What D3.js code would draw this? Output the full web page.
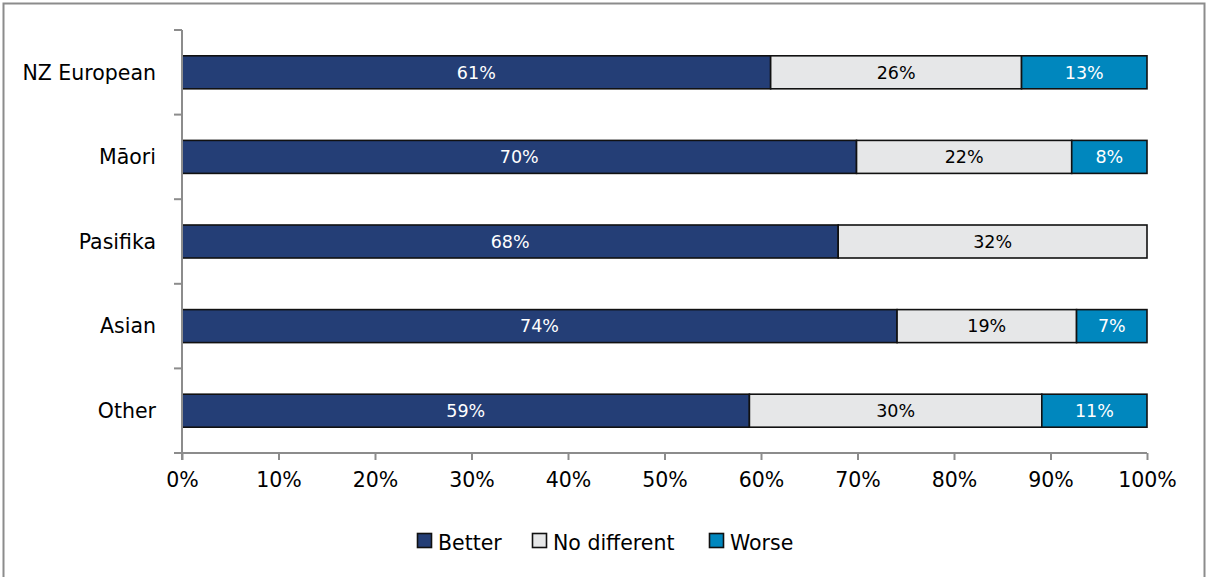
<!DOCTYPE html>
<html><head><meta charset="utf-8">
<script src="https://cdn.jsdelivr.net/npm/d3@7"></script>
<style>body{margin:0;background:#fff}svg{display:block}</style>
</head><body>
<script>
const categories = ["NZ European", "Māori", "Pasifika", "Asian", "Other"];
const seriesNames = ["Better", "No different", "Worse"];
const better = [61, 69.9, 68, 74.1, 58.8];
const noDifferent = [26, 22.3, 32, 18.6, 30.3];
const worse = [13, 7.8, 0, 7.3, 10.9];
const tickValues = [0, 10, 20, 30, 40, 50, 60, 70, 80, 90, 100];
const colors = ["#243e76", "#e6e7e8", "#0087be"];
const labelColors = ["#ffffff", "#000000", "#ffffff"];

const W = 1206, H = 577;
const font = "'DejaVu Sans', sans-serif";
const svg = d3.select("body").append("svg").attr("width", W).attr("height", H);
svg.append("rect").attr("x", 3.5).attr("y", 3.5).attr("width", 1201).attr("height", 580)
  .attr("fill", "#fff").attr("stroke", "#8c8c8c").attr("stroke-width", 2);

const pLeft = 182, pRight = 1147, pTop = 30, pBottom = 453;
const x = d3.scaleLinear().domain([0, 100]).range([pLeft, pRight]);
const y = d3.scaleBand().domain(categories).range([pTop, pBottom]).paddingInner(0.61).paddingOuter(0.305);

const data = categories.map((c, i) => ({cat: c, vals: [better[i], noDifferent[i], worse[i]]}));
const stack = d3.stack().keys([0, 1, 2]).value((d, k) => d.vals[k]);
const series = stack(data);

const g = svg.append("g");
series.forEach((s, k) => {
  s.forEach(d => {
    const w = x(d[1]) - x(d[0]);
    if (w <= 0) return;
    g.append("rect").attr("x", x(d[0])).attr("y", y(d.data.cat))
      .attr("width", w).attr("height", y.bandwidth())
      .attr("fill", colors[k]).attr("stroke", "#111").attr("stroke-width", 1.6);
    g.append("text").attr("x", (x(d[0]) + x(d[1])) / 2).attr("y", y(d.data.cat) + y.bandwidth() / 2)
      .attr("dy", "0.36em").attr("text-anchor", "middle")
      .attr("font-family", font).attr("font-size", 17.5).attr("fill", labelColors[k])
      .text(Math.round(d.data.vals[k]) + "%");
  });
});

// y axis
const yAxisG = svg.append("g");
yAxisG.append("line").attr("x1", pLeft).attr("x2", pLeft).attr("y1", pTop).attr("y2", pBottom + 7)
  .attr("stroke", "#8c8c8c").attr("stroke-width", 2);
const bounds = categories.map(c => y(c) - y.step() * y.paddingInner() / 2).concat([pBottom]);
bounds.forEach(b => {
  yAxisG.append("line").attr("x1", pLeft - 8).attr("x2", pLeft).attr("y1", b).attr("y2", b)
    .attr("stroke", "#8c8c8c").attr("stroke-width", 2);
});
categories.forEach(c => {
  yAxisG.append("text").attr("x", pLeft - 26).attr("y", y(c) + y.bandwidth() / 2).attr("dy", "0.36em")
    .attr("text-anchor", "end").attr("font-family", font).attr("font-size", 20.5).attr("fill", "#000").text(c);
});

// x axis
const xAxis = d3.axisBottom(x).tickValues(tickValues).tickFormat(d => d + "%").tickSize(7).tickPadding(12);
const xg = svg.append("g").attr("transform", `translate(0,${pBottom})`).call(xAxis);
xg.select(".domain").attr("stroke", "#8c8c8c").attr("stroke-width", 2).attr("d", `M${pLeft - 8},0H${pRight}`);
xg.selectAll(".tick line").attr("stroke", "#8c8c8c").attr("stroke-width", 2);
xg.selectAll(".tick text").attr("font-family", font).attr("font-size", 20.5).attr("fill", "#000");

// legend
const legendX = [417, 532, 709];
const leg = svg.append("g");
seriesNames.forEach((n, k) => {
  leg.append("rect").attr("x", legendX[k] + 0.5).attr("y", 533.5).attr("width", 14).attr("height", 14)
    .attr("fill", colors[k]).attr("stroke", "#111").attr("stroke-width", 1.6);
  leg.append("text").attr("x", legendX[k] + 21).attr("y", 550).attr("font-family", font)
    .attr("font-size", 20.5).attr("fill", "#000").text(n);
});
</script>
</body></html>
